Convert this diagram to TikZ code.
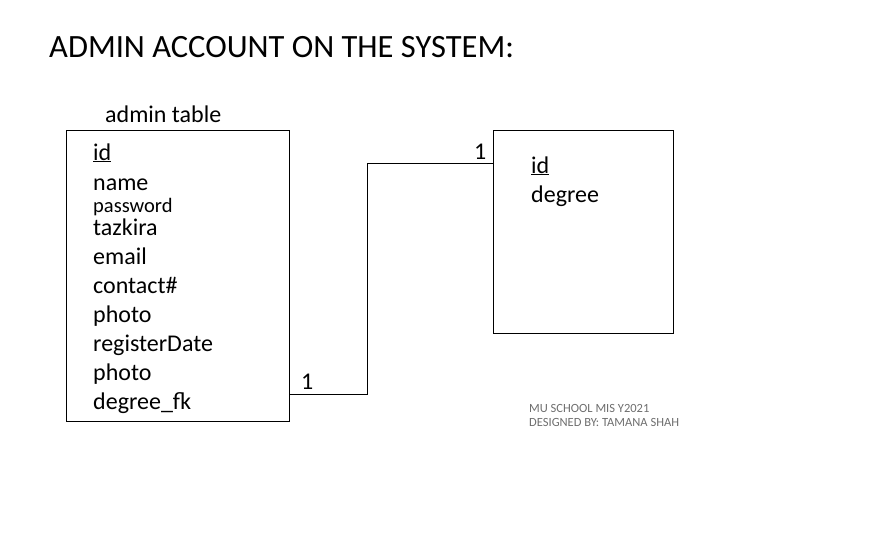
\documentclass[tikz,border=0pt]{standalone}
\usepackage{fontspec}
\setmainfont{Carlito}
\usepackage{tikz}
\usetikzlibrary{calc}
\definecolor{footgray}{RGB}{110,110,110}
\tikzstyle{tablebox} = [rectangle, 
draw=black, 
line width=0.8pt, 
inner sep=0pt, 
fill=white]
\tikzstyle{field} = [anchor=base west, inner sep=0pt, font=\fontsize{24}{24}\selectfont]
\tikzstyle{card} = [anchor=base west, inner sep=0pt, font=\fontsize{24}{24}\selectfont]
\tikzstyle{line} = [line width=0.8pt]

\begin{document}
\begin{tikzpicture}[x=1pt, y=-1pt]
    \useasboundingbox (0,0) rectangle (893,550);

    \node (title) [anchor=base west, inner sep=0pt, font=\fontsize{32.5}{32.5}\selectfont] at (49,57) {ADMIN ACCOUNT ON THE SYSTEM:};

    % admin table
    \node (tname) [anchor=base west, inner sep=0pt, font=\fontsize{24}{24}\selectfont] at (105,122) {admin table};
    \node (admin) [tablebox, anchor=north west, minimum width=223pt, minimum height=291pt] at (66,130) {};

    \node (aid) [field] at (93,160) {\underline{id}};
    \node (aname) [field] at (93,190) {name};
    \node (apass) [field, font=\fontsize{20.5}{20.5}\selectfont] at (93,212) {password};
    \node (atazk) [field] at (93,235) {tazkira};
    \node (amail) [field] at (93,264) {email};
    \node (acont) [field] at (93,293) {contact\#};
    \node (aphoto) [field] at (93,322) {photo};
    \node (areg) [field] at (93,351) {registerDate};
    \node (aphoto2) [field] at (93,380) {photo};
    \node (afk) [field] at (93,409) {degree\_fk};

    % degree table
    \node (degree) [tablebox, anchor=north west, minimum width=180pt, minimum height=203pt] at (493,130) {};
    \node (did) [field] at (531,173) {\underline{id}};
    \node (dname) [field] at (531,202) {degree};

    % relation
    \coordinate (fkend) at (289,394);
    \coordinate (bend) at (367,163);
    \draw [line] (fkend) -| (bend) -- (degree.west |- bend);
    \node (one1) [card] at (301,389) {1};
    \node (one2) [card] at (474,159) {1};

    % footer
    \node (foot1) [anchor=base west, inner sep=0pt, text=footgray, font=\fontsize{12.5}{12.5}\selectfont] at (529,412) {MU SCHOOL MIS Y2021};
    \node (foot2) [anchor=base west, inner sep=0pt, text=footgray, font=\fontsize{12.5}{12.5}\selectfont] at (529,426) {DESIGNED BY: TAMANA SHAH};
  \end{tikzpicture}
\end{document}
